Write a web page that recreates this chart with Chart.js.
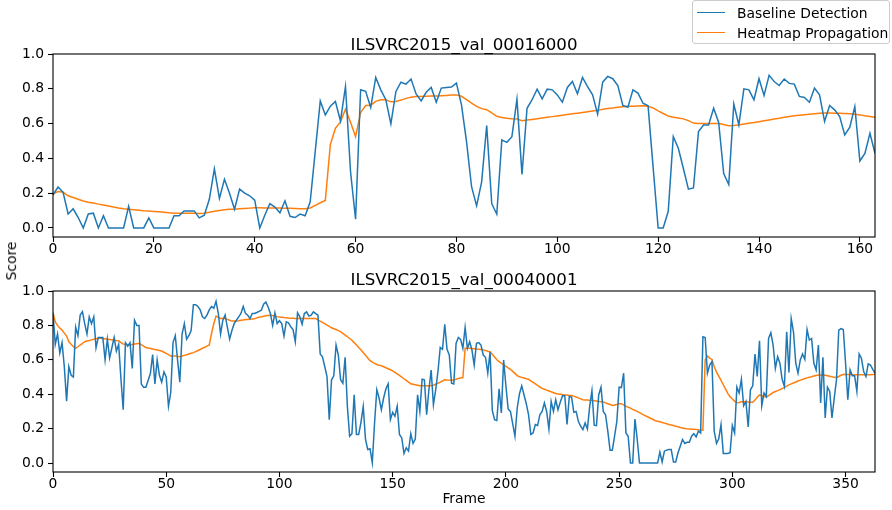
<!DOCTYPE html>
<html><head><meta charset="utf-8">
<script src="https://cdn.jsdelivr.net/npm/chart.js@4.4.0/dist/chart.umd.min.js"></script>
<style>
body{margin:0;background:#fff;width:892px;height:510px;overflow:hidden;position:relative;font-family:"DejaVu Sans",sans-serif;}
canvas{position:absolute;left:0;}
.t{position:absolute;color:#000;white-space:nowrap;font-family:"DejaVu Sans",sans-serif;}
</style></head><body>
<canvas id="c1" width="892" height="260" style="top:0px"></canvas>
<canvas id="c2" width="892" height="250" style="top:260px"></canvas>
<div class="t" id="title1" style="left:464px;top:37.2px;font-size:16.67px;line-height:16.67px;transform:translateX(-50%)">ILSVRC2015_val_00016000</div>
<div class="t" id="title2" style="left:464px;top:272.2px;font-size:16.67px;line-height:16.67px;transform:translateX(-50%)">ILSVRC2015_val_00040001</div>
<div class="t" id="xlab" style="left:464px;top:491.7px;font-size:13.89px;line-height:13.89px;transform:translateX(-50%)">Frame</div>
<div class="t" id="ylab" style="left:12px;top:260.5px;font-size:13.89px;line-height:13.89px;transform:translate(-50%,-50%) rotate(-90deg)">Score</div>
<div id="legend" style="position:absolute;left:692px;top:0px;width:196px;height:42px;border:1px solid #cccccc;border-radius:3px;background:rgba(255,255,255,0.8)">
  <div style="position:absolute;left:4px;top:10.5px;width:28px;height:1.6px;background:#1f77b4"></div>
  <div class="t" style="left:44px;top:1.6px;font-size:13.89px;line-height:20px">Baseline Detection</div>
  <div style="position:absolute;left:4px;top:30.5px;width:28px;height:1.6px;background:#ff7f0e"></div>
  <div class="t" style="left:44px;top:21.6px;font-size:13.89px;line-height:20px">Heatmap Propagation</div>
</div>
<script>
// ---- data: sequence ILSVRC2015_val_00016000 (frames 0..163)
const topBaseline = [
0.19,0.235,0.205,0.08,0.11,0.06,0,0.08,0.085,0,
0.07,0,0,0,0,0.125,0,0,0,0.058,
0,0,0,0,0.07,0.07,0.098,0.098,0.098,0.058,
0.073,0.165,0.34,0.17,0.28,0.2,0.108,0.223,0.2,0.185,
0.16,0,0.073,0.14,0.12,0.087,0.156,0.067,0.06,0.08,
0.07,0.15,0.44,0.73,0.65,0.70,0.727,0.615,0.813,0.323,
0.05,0.794,0.785,0.692,0.865,0.794,0.737,0.598,0.785,0.838,
0.827,0.856,0.77,0.73,0.78,0.808,0.723,0.804,0.808,0.81,
0.833,0.708,0.496,0.237,0.127,0.265,0.588,0.14,0.079,0.506,
0.492,0.525,0.74,0.308,0.688,0.737,0.798,0.742,0.798,0.794,
0.765,0.723,0.808,0.842,0.771,0.865,0.813,0.765,0.654,0.838,
0.871,0.858,0.819,0.704,0.694,0.794,0.775,0.717,0.702,0.35,
0,0,0.096,0.525,0.458,0.342,0.223,0.23,0.554,0.592,
0.592,0.688,0.606,0.313,0.25,0.712,0.592,0.8,0.794,0.737,
0.858,0.762,0.877,0.842,0.819,0.856,0.831,0.827,0.756,0.75,
0.723,0.804,0.765,0.612,0.704,0.679,0.64,0.535,0.579,0.698,
0.385,0.429,0.544,0.429];
const topHeatmap = [
0.195,0.21,0.205,0.185,0.175,0.165,0.155,0.148,0.143,0.137,
0.132,0.126,0.12,0.115,0.111,0.108,0.105,0.102,0.099,0.097,
0.095,0.093,0.09,0.087,0.085,0.084,0.084,0.084,0.084,0.083,
0.085,0.09,0.096,0.1,0.104,0.107,0.108,0.11,0.112,0.114,
0.116,0.116,0.115,0.115,0.114,0.114,0.113,0.113,0.112,0.111,
0.111,0.115,0.13,0.145,0.158,0.48,0.573,0.61,0.683,0.608,
0.525,0.663,0.704,0.706,0.728,0.737,0.737,0.725,0.727,0.735,
0.745,0.752,0.755,0.756,0.757,0.758,0.758,0.76,0.762,0.764,
0.765,0.757,0.738,0.718,0.699,0.686,0.68,0.662,0.642,0.635,
0.63,0.628,0.627,0.617,0.62,0.624,0.628,0.632,0.636,0.64,
0.644,0.648,0.652,0.656,0.66,0.664,0.668,0.672,0.676,0.682,
0.687,0.69,0.694,0.697,0.699,0.7,0.701,0.702,0.7,0.69,
0.673,0.658,0.643,0.637,0.632,0.627,0.617,0.603,0.601,0.6,
0.6,0.6,0.601,0.595,0.588,0.589,0.592,0.597,0.602,0.606,
0.611,0.616,0.621,0.626,0.631,0.637,0.641,0.645,0.648,0.651,
0.654,0.657,0.66,0.661,0.661,0.66,0.659,0.658,0.657,0.654,
0.65,0.645,0.641,0.637];

// ---- data: sequence ILSVRC2015_val_00040001 (frames 0..363)
const botBaseline = [
0.87,0.69,0.75,0.64,0.70,0.56,0.36,0.56,0.51,0.50,
0.79,0.74,0.86,0.88,0.81,0.75,0.85,0.81,0.85,0.67,
0.73,0.73,0.73,0.60,0.72,0.61,0.67,0.73,0.65,0.69,
0.49,0.31,0.70,0.68,0.70,0.55,0.83,0.80,0.80,0.46,
0.44,0.44,0.48,0.52,0.63,0.46,0.60,0.51,0.47,0.53,
0.50,0.33,0.41,0.70,0.74,0.60,0.47,0.75,0.81,0.72,
0.74,0.77,0.92,0.92,0.91,0.89,0.85,0.84,0.86,0.89,
0.91,0.90,0.94,0.87,0.75,0.83,0.86,0.79,0.72,0.77,
0.81,0.83,0.85,0.87,0.91,0.87,0.859,0.84,0.869,0.869,
0.875,0.882,0.888,0.923,0.936,0.907,0.869,0.8,0.873,0.811,
0.827,0.811,0.738,0.821,0.815,0.792,0.776,0.705,0.873,0.85,
0.807,0.869,0.879,0.854,0.859,0.879,0.869,0.859,0.634,0.618,
0.561,0.503,0.252,0.484,0.507,0.686,0.628,0.484,0.464,0.615,
0.329,0.156,0.17,0.397,0.166,0.166,0.237,0.329,0.137,0.079,
0.083,0.002,0.233,0.426,0.378,0.31,0.378,0.43,0.46,0.252,
0.295,0.272,0.33,0.166,0.146,0.056,0.089,0.07,0.171,0.114,
0.14,0.397,0.3,0.487,0.484,0.281,0.426,0.541,0.339,0.426,
0.532,0.672,0.661,0.807,0.661,0.628,0.464,0.46,0.695,0.73,
0.719,0.667,0.788,0.667,0.705,0.657,0.57,0.696,0.7,0.686,
0.628,0.615,0.522,0.647,0.306,0.252,0.247,0.432,0.291,0.599,
0.449,0.314,0.3,0.229,0.156,0.32,0.403,0.449,0.397,0.345,
0.281,0.166,0.175,0.224,0.218,0.281,0.3,0.349,0.3,0.198,
0.358,0.3,0.368,0.31,0.353,0.391,0.391,0.224,0.387,0.383,
0.295,0.3,0.243,0.214,0.195,0.233,0.198,0.329,0.42,0.22,
0.218,0.397,0.441,0.3,0.281,0.185,0.075,0.075,0.156,0.243,
0.441,0.439,0.522,0.175,0.156,0,0,0.256,0.137,0,
0,0,0,0,0,0,0,0,0.064,0.006,
0.069,0.075,0.079,0.079,0.006,0.006,0.06,0.098,0.137,0.114,
0.121,0.121,0.156,0.171,0.152,0.185,0.175,0.734,0.73,0.522,
0.57,0.59,0.185,0.114,0.141,0.224,0.056,0.056,0.056,0.06,
0.218,0.175,0.441,0.407,0.487,0.333,0.358,0.21,0.426,0.449,
0.634,0.503,0.711,0.333,0.407,0.387,0.724,0.757,0.686,0.551,
0.618,0.58,0.487,0.445,0.763,0.526,0.84,0.763,0.58,0.522,
0.599,0.634,0.603,0.776,0.715,0.724,0.58,0.541,0.686,0.349,
0.615,0.262,0.441,0.416,0.262,0.378,0.484,0.773,0.782,0.776,
0.58,0.368,0.541,0.507,0.507,0.416,0.634,0.609,0.532,0.503,
0.576,0.57,0.545,0.522];
const botHeatmap = [
0.875,0.82,0.80,0.785,0.773,0.755,0.738,0.705,0.69,0.676,
0.667,0.676,0.686,0.695,0.705,0.709,0.712,0.716,0.719,0.723,
0.726,0.725,0.723,0.722,0.72,0.718,0.716,0.714,0.712,0.711,
0.70,0.692,0.69,0.688,0.686,0.689,0.692,0.694,0.696,0.688,
0.68,0.672,0.669,0.666,0.663,0.66,0.657,0.654,0.651,0.644,
0.637,0.63,0.622,0.622,0.622,0.62,0.618,0.622,0.626,0.63,
0.634,0.638,0.642,0.648,0.654,0.66,0.667,0.673,0.68,0.686,
0.753,0.81,0.854,0.847,0.84,0.84,0.84,0.835,0.83,0.825,
0.826,0.826,0.827,0.83,0.832,0.834,0.835,0.836,0.837,0.838,
0.844,0.847,0.85,0.853,0.856,0.858,0.859,0.857,0.854,0.851,
0.849,0.848,0.846,0.845,0.843,0.842,0.841,0.84,0.84,0.84,
0.84,0.84,0.84,0.84,0.84,0.84,0.84,0.832,0.824,0.818,
0.81,0.802,0.794,0.786,0.781,0.776,0.77,0.764,0.754,0.744,
0.734,0.724,0.714,0.7,0.686,0.671,0.657,0.642,0.627,0.611,
0.595,0.586,0.579,0.573,0.568,0.565,0.56,0.554,0.548,0.542,
0.536,0.527,0.518,0.509,0.5,0.49,0.48,0.47,0.461,0.458,
0.455,0.452,0.449,0.449,0.449,0.449,0.449,0.449,0.452,0.458,
0.464,0.47,0.477,0.484,0.483,0.482,0.481,0.483,0.487,0.492,
0.495,0.497,0.667,0.667,0.667,0.666,0.665,0.663,0.662,0.66,
0.657,0.654,0.65,0.647,0.632,0.616,0.6,0.59,0.58,0.57,
0.562,0.553,0.545,0.533,0.521,0.508,0.501,0.498,0.494,0.49,
0.487,0.478,0.469,0.46,0.451,0.442,0.434,0.429,0.424,0.419,
0.414,0.409,0.404,0.402,0.4,0.398,0.396,0.395,0.393,0.392,
0.389,0.384,0.379,0.373,0.368,0.367,0.366,0.365,0.364,0.362,
0.36,0.358,0.356,0.355,0.35,0.345,0.34,0.335,0.338,0.341,
0.344,0.345,0.338,0.331,0.324,0.319,0.312,0.306,0.3,0.293,
0.286,0.279,0.272,0.266,0.259,0.253,0.246,0.243,0.24,0.236,
0.232,0.228,0.224,0.221,0.218,0.214,0.211,0.207,0.204,0.201,
0.199,0.198,0.197,0.196,0.195,0.194,0.192,0.191,0.6,0.622,
0.61,0.602,0.56,0.53,0.505,0.48,0.455,0.43,0.405,0.385,
0.372,0.36,0.35,0.352,0.356,0.357,0.356,0.355,0.354,0.353,
0.367,0.382,0.396,0.391,0.386,0.383,0.392,0.401,0.41,0.416,
0.421,0.427,0.433,0.44,0.447,0.454,0.46,0.465,0.471,0.477,
0.482,0.486,0.491,0.495,0.499,0.502,0.506,0.509,0.512,0.512,
0.511,0.51,0.507,0.504,0.501,0.498,0.497,0.503,0.51,0.515,
0.516,0.515,0.514,0.513,0.513,0.513,0.513,0.513,0.513,0.513,
0.513,0.513,0.514,0.516];

const yTicks = [0.0, 0.2, 0.4, 0.6, 0.8, 1.0];
const topXStep = 20, botXStep = 50;
const seriesNames = ['Baseline Detection', 'Heatmap Propagation'];
const seriesColors = ['#1f77b4', '#ff7f0e'];

const FONT = {family: 'DejaVu Sans', size: 13.89};
const boxPlugin = {
  id: 'box',
  afterDraw(chart) {
    const {ctx, chartArea: a} = chart;
    ctx.save();
    ctx.strokeStyle = '#000';
    ctx.lineWidth = 1.1;
    ctx.strokeRect(a.left, a.top, a.right - a.left, a.bottom - a.top);
    ctx.restore();
  }
};

function toPts(arr) { return arr.map((v, i) => ({x: i, y: v})); }

function makeChart(id, base, heat, xMax, xStep, xHeight, padTop) {
  return new Chart(document.getElementById(id), {
    type: 'line',
    data: {
      datasets: [
        {label: seriesNames[0], data: toPts(base), borderColor: seriesColors[0], borderWidth: 1.5, pointRadius: 0, tension: 0, fill: false},
        {label: seriesNames[1], data: toPts(heat), borderColor: seriesColors[1], borderWidth: 1.5, pointRadius: 0, tension: 0, fill: false}
      ]
    },
    options: {
      responsive: false, animation: false, devicePixelRatio: 1,
      layout: {padding: {top: padTop, right: 17, left: 0, bottom: 0}},
      plugins: {legend: {display: false}, title: {display: false}, tooltip: {enabled: false}},
      scales: {
        x: {
          type: 'linear', min: 0, max: xMax,
          ticks: {stepSize: xStep, includeBounds: false, autoSkip: false, maxRotation: 0, color: '#000', font: FONT, padding: -1},
          grid: {drawOnChartArea: false, tickLength: 5, tickWidth: 1.1, tickColor: '#000'},
          border: {display: false},
          afterFit(s) { s.height = xHeight; }
        },
        y: {
          type: 'linear', min: -0.052, max: 1.0,
          afterBuildTicks(s) { s.ticks = yTicks.map(v => ({value: v})); },
          ticks: {color: '#000', font: FONT, padding: 4, callback: v => Number(v).toFixed(1)},
          grid: {drawOnChartArea: false, tickLength: 5, tickWidth: 1.1, tickColor: '#000'},
          border: {display: false},
          afterFit(s) { s.width = 53; }
        }
      }
    },
    plugins: [boxPlugin]
  });
}

makeChart('c1', topBaseline, topHeatmap, 163, topXStep, 23, 54);
makeChart('c2', botBaseline, botHeatmap, 363, botXStep, 38, 31);
</script>
</body></html>
